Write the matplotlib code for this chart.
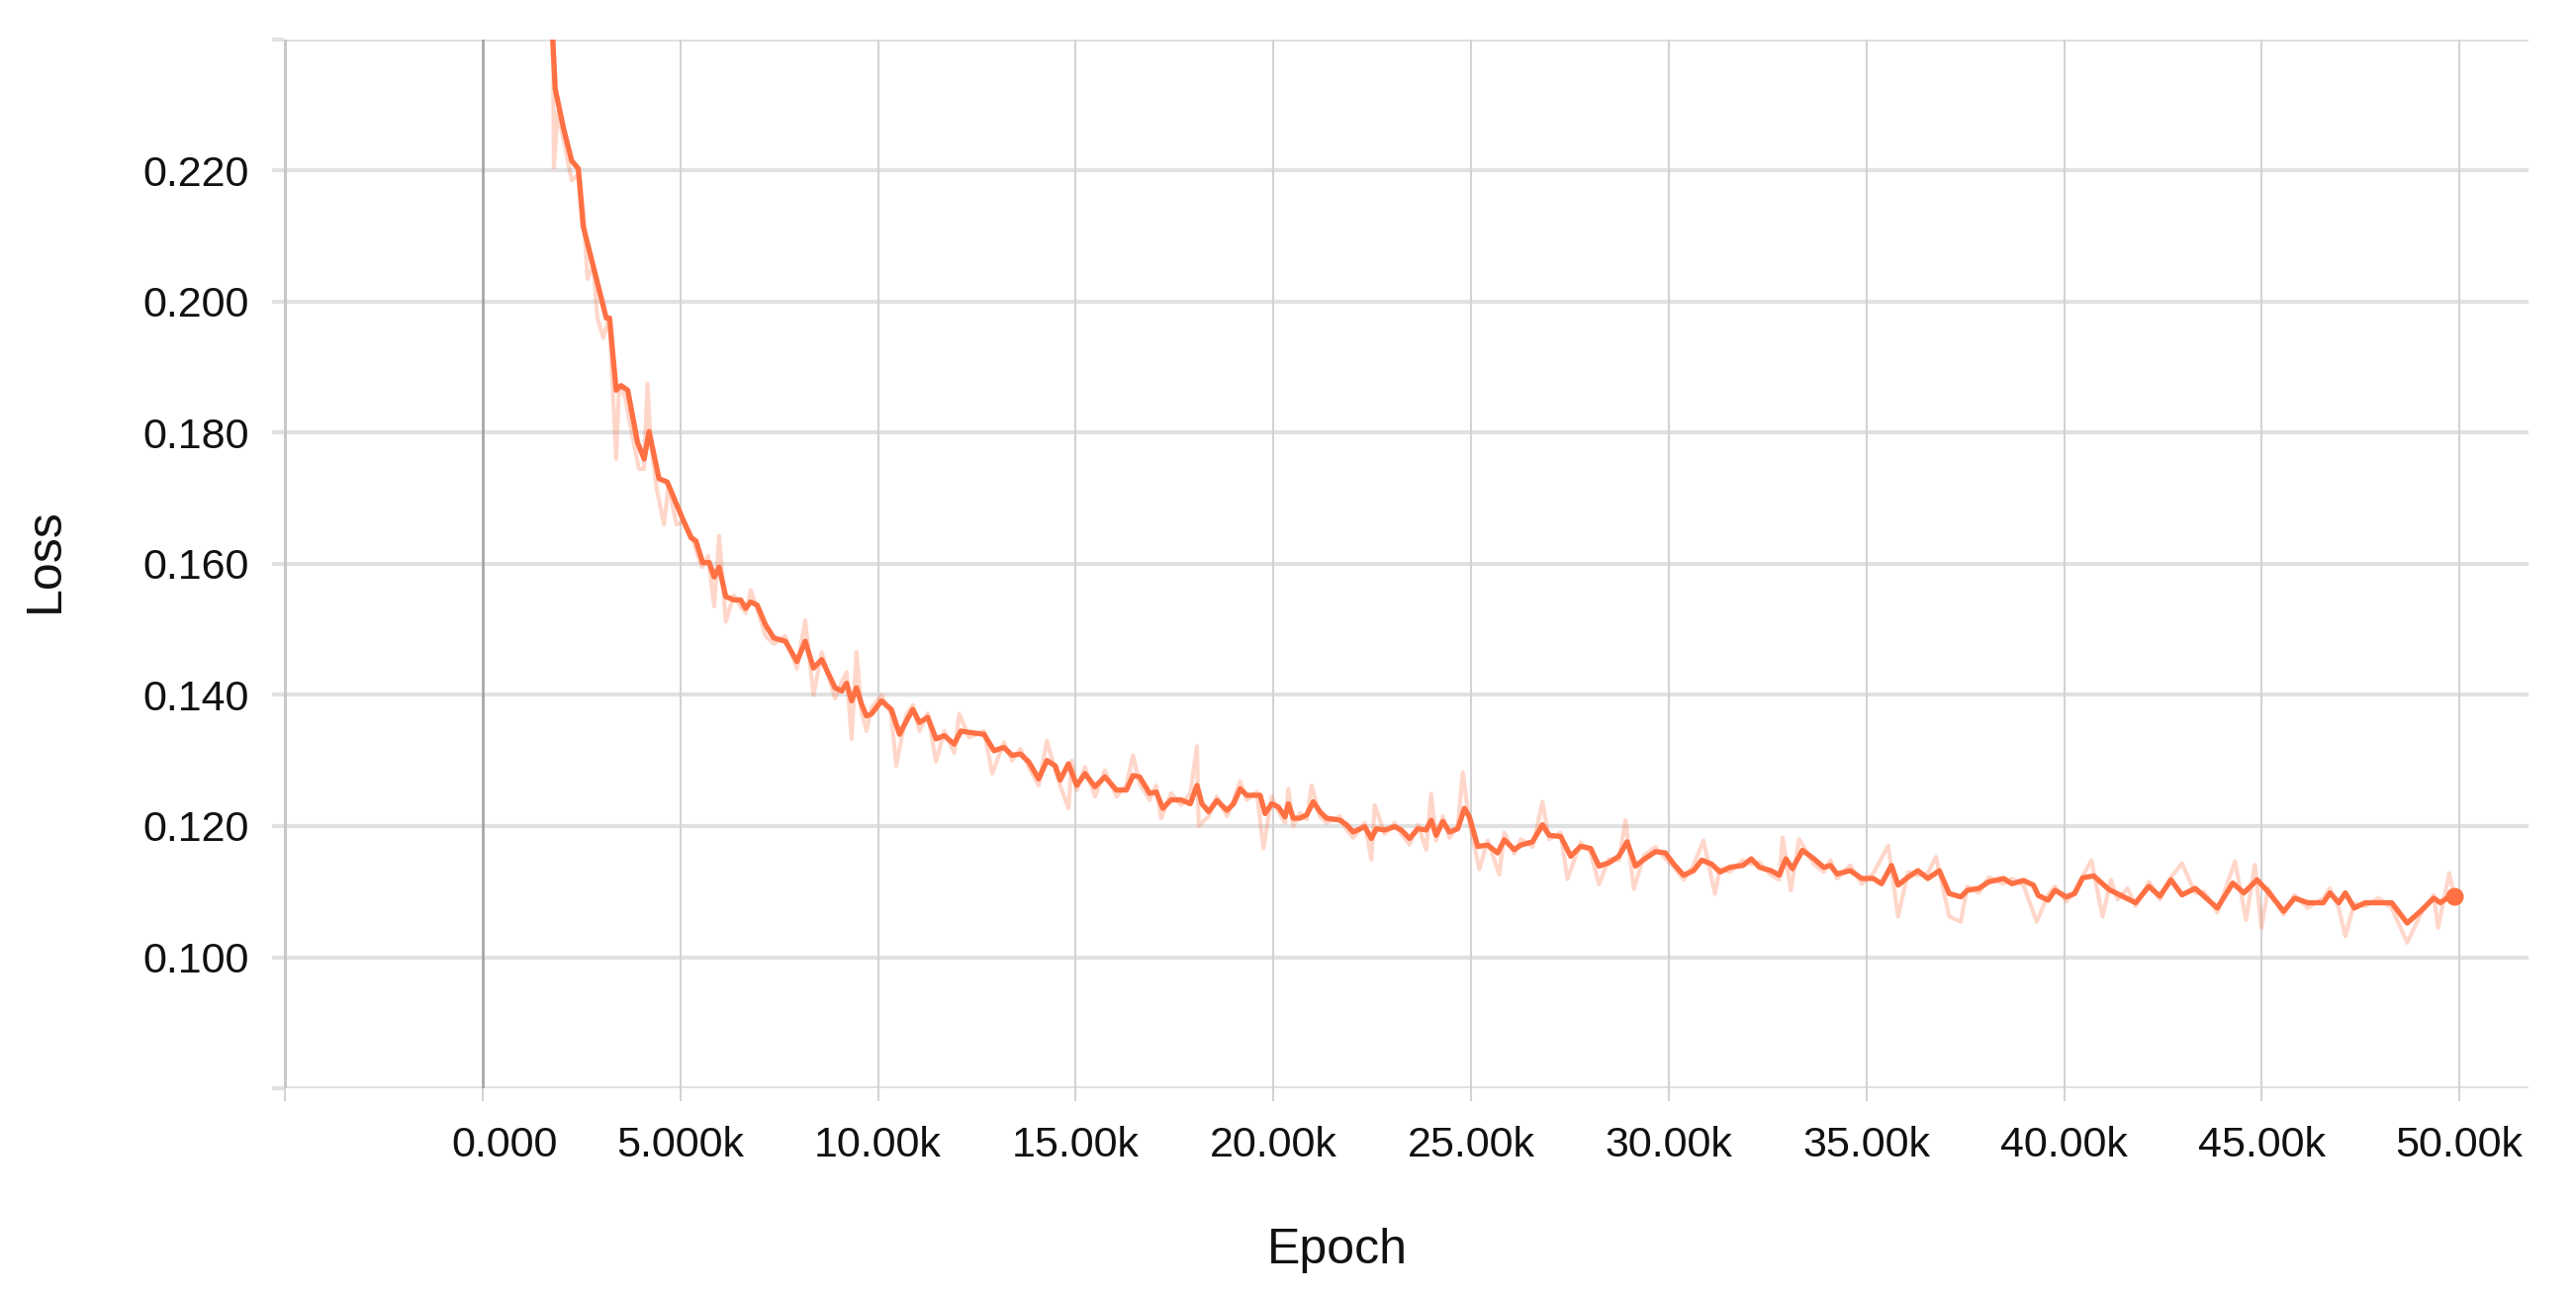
import matplotlib
matplotlib.use("Agg")
import matplotlib.pyplot as plt
from matplotlib.transforms import ScaledTranslation

LINE_COLOR = "#FF7043"
GRID_COLOR = "#E1E1E1"
VGRID_COLOR = "#D3D3D3"
ZERO_COLOR = "#9E9E9E"
TEXT_COLOR = "#111111"

plt.rcParams['font.family'] = ['Liberation Sans', 'DejaVu Sans']

# smoothed loss curve
SMOOTH_STEPS = [1650, 1775, 1833, 2042, 2250, 2417, 2542, 2750, 2958, 3125, 3208, 3375, 3500, 3667,
                3917, 4083, 4208, 4458, 4667, 4875, 5083, 5268, 5394, 5561, 5729, 5854, 5980, 6148,
                6357, 6525, 6650, 6776, 6943, 7152, 7362, 7655, 7948, 8157, 8366, 8576, 8911, 9079,
                9204, 9330, 9455, 9581, 9707, 9832, 10084, 10335, 10544, 10712, 10879, 11047, 11256,
                11466, 11675, 11926, 12094, 12303, 12680, 12931, 13182, 13391, 13601, 13811, 14062,
                14271, 14481, 14606, 14816, 15025, 15234, 15486, 15737, 16030, 16281, 16449, 16616,
                16867, 17035, 17203, 17412, 17663, 17899, 18067, 18193, 18361, 18571, 18824, 18992,
                19160, 19328, 19664, 19790, 19958, 20126, 20294, 20378, 20504, 20672, 20840, 21008,
                21176, 21345, 21681, 21849, 22017, 22311, 22479, 22605, 22815, 23067, 23235, 23445,
                23655, 23865, 23991, 24117, 24285, 24454, 24664, 24832, 24958, 25168, 25420, 25672,
                25840, 26092, 26260, 26554, 26806, 26974, 27268, 27520, 27772, 28024, 28235, 28487,
                28739, 28949, 29159, 29370, 29664, 29916, 30126, 30376, 30626, 30835, 31085, 31294,
                31544, 31878, 32087, 32295, 32588, 32796, 32963, 33130, 33381, 33673, 33923, 34090,
                34257, 34591, 34883, 35175, 35384, 35634, 35801, 36052, 36302, 36553, 36845, 37095,
                37387, 37554, 37846, 38097, 38472, 38681, 38973, 39224, 39349, 39599, 39766, 40058,
                40267, 40469, 40748, 41139, 41474, 41810, 42145, 42424, 42703, 42982, 43317, 43541,
                43876, 44267, 44546, 44881, 45161, 45552, 45831, 46166, 46557, 46724, 46948, 47115,
                47339, 47618, 47953, 48288, 48679, 49014, 49349, 49517, 49684, 49874]
SMOOTH_LOSS = [0.2500, 0.2398, 0.2325, 0.2265, 0.2215, 0.2203, 0.2115, 0.2065, 0.2015, 0.1975, 0.1975,
               0.1865, 0.1872, 0.1865, 0.1785, 0.1760, 0.1802, 0.1730, 0.1725, 0.1695, 0.1665, 0.1640,
               0.1635, 0.1602, 0.1602, 0.1580, 0.1595, 0.1550, 0.1545, 0.1545, 0.1532, 0.1542, 0.1537,
               0.1507, 0.1487, 0.1482, 0.1451, 0.1482, 0.1441, 0.1454, 0.1411, 0.1406, 0.1418, 0.1391,
               0.1411, 0.1386, 0.1368, 0.1371, 0.1391, 0.1378, 0.1340, 0.1360, 0.1378, 0.1358, 0.1366,
               0.1333, 0.1338, 0.1325, 0.1345, 0.1343, 0.1340, 0.1315, 0.1320, 0.1308, 0.1310, 0.1298,
               0.1272, 0.1300, 0.1292, 0.1270, 0.1295, 0.1262, 0.1280, 0.1260, 0.1275, 0.1255, 0.1255,
               0.1277, 0.1275, 0.1250, 0.1252, 0.1227, 0.1240, 0.1240, 0.1234, 0.1262, 0.1234, 0.1222,
               0.1239, 0.1224, 0.1234, 0.1257, 0.1247, 0.1247, 0.1219, 0.1234, 0.1229, 0.1214, 0.1234,
               0.1212, 0.1212, 0.1217, 0.1237, 0.1222, 0.1212, 0.1209, 0.1202, 0.1191, 0.1199, 0.1181,
               0.1196, 0.1194, 0.1199, 0.1194, 0.1181, 0.1196, 0.1194, 0.1209, 0.1186, 0.1207, 0.1191,
               0.1196, 0.1227, 0.1214, 0.1169, 0.1171, 0.1159, 0.1179, 0.1164, 0.1171, 0.1176, 0.1202,
               0.1186, 0.1184, 0.1154, 0.1169, 0.1166, 0.1139, 0.1144, 0.1154, 0.1176, 0.1139, 0.1149,
               0.1161, 0.1159, 0.1142, 0.1125, 0.1132, 0.1148, 0.1142, 0.1130, 0.1137, 0.1140, 0.1150,
               0.1137, 0.1132, 0.1125, 0.1150, 0.1135, 0.1163, 0.1150, 0.1137, 0.1140, 0.1127, 0.1132,
               0.1120, 0.1120, 0.1112, 0.1140, 0.1110, 0.1122, 0.1132, 0.1120, 0.1132, 0.1097, 0.1092,
               0.1102, 0.1105, 0.1115, 0.1120, 0.1112, 0.1117, 0.1110, 0.1094, 0.1087, 0.1102, 0.1092,
               0.1097, 0.1121, 0.1124, 0.1103, 0.1093, 0.1083, 0.1108, 0.1093, 0.1118, 0.1095, 0.1105,
               0.1093, 0.1075, 0.1113, 0.1098, 0.1118, 0.1100, 0.1070, 0.1090, 0.1083, 0.1083, 0.1098,
               0.1083, 0.1098, 0.1075, 0.1083, 0.1083, 0.1083, 0.1052, 0.1070, 0.1090, 0.1083, 0.1090,
               0.1093]

# raw (unsmoothed) loss, drawn faint behind
RAW_STEPS = [1650, 1780, 1800, 1900, 2100, 2250, 2450, 2550, 2650, 2800, 2900, 3050, 3200, 3375, 3450,
             3600, 3800, 3950, 4080, 4167, 4250, 4400, 4583, 4700, 4900, 5100, 5270, 5400, 5550, 5700,
             5854, 5980, 6148, 6350, 6520, 6650, 6780, 6950, 7150, 7362, 7650, 7948, 8157, 8366, 8576,
             8911, 9079, 9204, 9330, 9455, 9581, 9707, 9832, 10084, 10335, 10460, 10712, 10879, 11047,
             11256, 11466, 11675, 11926, 12052, 12303, 12680, 12889, 13182, 13391, 13601, 13811, 14062,
             14271, 14481, 14606, 14816, 14900, 15025, 15234, 15486, 15737, 16030, 16281, 16449, 16616,
             16867, 17035, 17160, 17412, 17663, 17899, 18067, 18110, 18361, 18571, 18824, 18992, 19160,
             19328, 19580, 19748, 19958, 20126, 20294, 20378, 20504, 20672, 20840, 20966, 21176, 21345,
             21681, 21849, 22017, 22311, 22479, 22563, 22815, 23067, 23235, 23445, 23655, 23865, 23991,
             24117, 24285, 24454, 24664, 24790, 24958, 25210, 25420, 25714, 25840, 26092, 26260, 26554,
             26806, 26974, 27268, 27436, 27772, 28024, 28235, 28487, 28739, 28907, 29117, 29370, 29664,
             29916, 30126, 30376, 30626, 30876, 31168, 31294, 31544, 31878, 32087, 32295, 32588, 32796,
             32880, 33088, 33297, 33673, 33923, 34090, 34257, 34591, 34883, 35175, 35550, 35801, 36052,
             36302, 36553, 36761, 37095, 37387, 37554, 37846, 38097, 38472, 38681, 38973, 39307, 39599,
             39766, 40058, 40267, 40692, 40972, 41186, 41353, 41603, 41812, 42146, 42424, 42703, 42982,
             43317, 43541, 43876, 44323, 44602, 44826, 44993, 45161, 45552, 45831, 46166, 46557, 46724,
             46948, 47115, 47339, 47618, 47953, 48288, 48679, 49014, 49349, 49461, 49740, 49874]
RAW_LOSS = [0.2550, 0.2360, 0.2205, 0.2290, 0.2230, 0.2185, 0.2195, 0.2135, 0.2035, 0.2055, 0.1975,
            0.1945, 0.1975, 0.1760, 0.1872, 0.1855, 0.1790, 0.1745, 0.1745, 0.1875, 0.1785, 0.1715,
            0.1660, 0.1720, 0.1660, 0.1665, 0.1645, 0.1620, 0.1595, 0.1612, 0.1535, 0.1643, 0.1512,
            0.1552, 0.1535, 0.1525, 0.1560, 0.1530, 0.1490, 0.1478, 0.1490, 0.1440, 0.1514, 0.1400,
            0.1465, 0.1395, 0.1420, 0.1435, 0.1333, 0.1466, 0.1375, 0.1345, 0.1380, 0.1400, 0.1370,
            0.1292, 0.1370, 0.1385, 0.1345, 0.1372, 0.1298, 0.1345, 0.1312, 0.1371, 0.1335, 0.1345,
            0.1280, 0.1328, 0.1300, 0.1318, 0.1290, 0.1262, 0.1330, 0.1285, 0.1262, 0.1227, 0.1300,
            0.1255, 0.1290, 0.1245, 0.1285, 0.1245, 0.1262, 0.1308, 0.1265, 0.1240, 0.1262, 0.1212,
            0.1250, 0.1232, 0.1250, 0.1322, 0.1200, 0.1215, 0.1245, 0.1215, 0.1240, 0.1268, 0.1240,
            0.1252, 0.1166, 0.1245, 0.1222, 0.1205, 0.1257, 0.1200, 0.1220, 0.1210, 0.1262, 0.1215,
            0.1205, 0.1215, 0.1195, 0.1182, 0.1205, 0.1149, 0.1232, 0.1188, 0.1205, 0.1188, 0.1172,
            0.1202, 0.1164, 0.1249, 0.1178, 0.1215, 0.1182, 0.1200, 0.1282, 0.1205, 0.1134, 0.1178,
            0.1126, 0.1190, 0.1158, 0.1180, 0.1168, 0.1237, 0.1180, 0.1190, 0.1119, 0.1175, 0.1160,
            0.1111, 0.1150, 0.1148, 0.1209, 0.1104, 0.1155, 0.1168, 0.1150, 0.1138, 0.1118, 0.1140,
            0.1178, 0.1097, 0.1135, 0.1130, 0.1148, 0.1142, 0.1145, 0.1125, 0.1118, 0.1183, 0.1102,
            0.1180, 0.1142, 0.1130, 0.1148, 0.1120, 0.1140, 0.1112, 0.1128, 0.1170, 0.1062, 0.1130,
            0.1125, 0.1128, 0.1153, 0.1062, 0.1054, 0.1108, 0.1098, 0.1122, 0.1112, 0.1120, 0.1110,
            0.1054, 0.1095, 0.1108, 0.1085, 0.1100, 0.1148, 0.1062, 0.1118, 0.1088, 0.1105, 0.1078,
            0.1115, 0.1088, 0.1122, 0.1143, 0.1098, 0.1100, 0.1068, 0.1146, 0.1057, 0.1141, 0.1045,
            0.1105, 0.1065, 0.1095, 0.1075, 0.1090, 0.1105, 0.1075, 0.1032, 0.1082, 0.1078, 0.1090,
            0.1075, 0.1022, 0.1065, 0.1095, 0.1045, 0.1128, 0.1093]

X_TICKS = [-5000, 0, 5000, 10000, 15000, 20000, 25000, 30000, 35000, 40000, 45000, 50000]
X_TICK_LABELS = ["", "0.000", "5.000k", "10.00k", "15.00k", "20.00k", "25.00k",
                 "30.00k", "35.00k", "40.00k", "45.00k", "50.00k"]
Y_TICKS = [0.080, 0.100, 0.120, 0.140, 0.160, 0.180, 0.200, 0.220, 0.240]
Y_TICK_LABELS = ["", "0.100", "0.120", "0.140", "0.160", "0.180", "0.200", "0.220", ""]


def main():
    fig = plt.figure(figsize=(26.04, 13.10), dpi=100)
    ax = fig.add_axes([0.1102, 0.1603, 0.8714, 0.8092])

    plotLoss(ax)
    styleAxes(fig, ax)

    fig.text(0.519, 0.035, "Epoch", ha='center', va='center', fontsize=36, color=TEXT_COLOR)
    fig.text(0.0177, 0.568, "Loss", ha='center', va='center', rotation=90, fontsize=36,
             color=TEXT_COLOR)

    fig.savefig("out.png", dpi=100)


def plotLoss(ax):
    ax.plot(RAW_STEPS, RAW_LOSS, color=LINE_COLOR, alpha=0.28, linewidth=3.0, zorder=3)
    ax.plot(SMOOTH_STEPS, SMOOTH_LOSS, color=LINE_COLOR, linewidth=3.8, zorder=4)
    ax.plot(SMOOTH_STEPS[-1], SMOOTH_LOSS[-1], 'o', color=LINE_COLOR, markersize=12, zorder=5)


def styleAxes(fig, ax):
    ax.set_xlim(-5030, 51750)
    ax.set_ylim(0.080, 0.240)

    for s in ax.spines.values():
        s.set_visible(False)

    ax.set_xticks(X_TICKS)
    ax.set_xticklabels(X_TICK_LABELS)
    ax.set_yticks(Y_TICKS)
    ax.set_yticklabels(Y_TICK_LABELS)

    for y in Y_TICKS:
        ax.axhline(y, color=GRID_COLOR, linewidth=3.0, zorder=1)
    for x in X_TICKS:
        if x == 0:
            ax.axvline(x, color=ZERO_COLOR, linewidth=1.8, zorder=2)
        elif x == -5000:
            ax.axvline(x, color="#C8C8C8", linewidth=2.2, zorder=2)
        else:
            ax.axvline(x, color=VGRID_COLOR, linewidth=1.5, zorder=2)

    ax.tick_params(axis='x', length=9, width=1.5, color=VGRID_COLOR, pad=18,
                   labelsize=31, labelcolor=TEXT_COLOR)
    ax.tick_params(axis='y', length=9, width=3.0, color=GRID_COLOR, pad=16,
                   labelsize=31, labelcolor=TEXT_COLOR)

    # the "0.000" label sits a bit right of its gridline in the original
    zeroLabel = ax.get_xticklabels()[1]
    zeroLabel.set_transform(zeroLabel.get_transform() +
                            ScaledTranslation(0.22, 0, fig.dpi_scale_trans))


if __name__ == "__main__":
    main()
